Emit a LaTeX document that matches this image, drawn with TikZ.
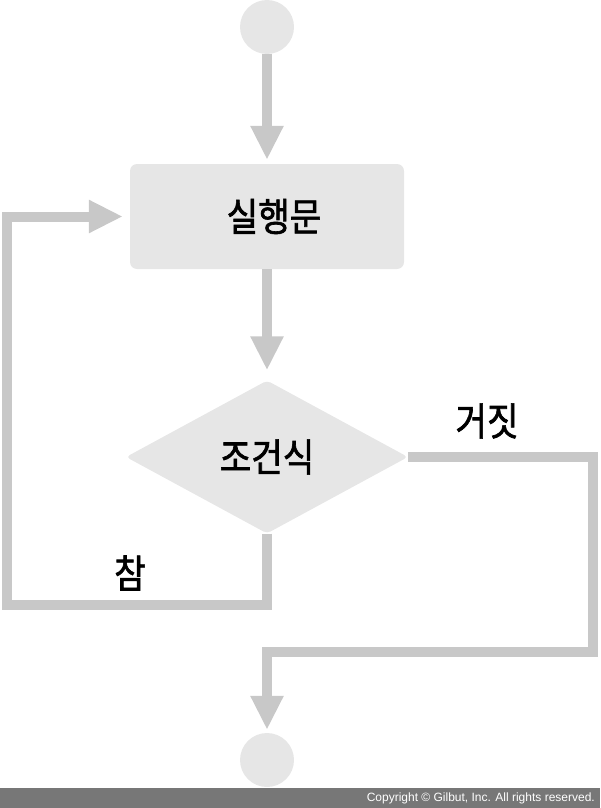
\documentclass[tikz,border=0pt]{standalone}
\usepackage{fontspec}
\setmainfont{Liberation Sans}
\newfontfamily\kor[FakeBold=1.6, FakeStretch=0.88]{Noto Sans CJK KR}
\usetikzlibrary{shapes.geometric,arrows.meta}
\definecolor{flowgray}{HTML}{C8C8C8}
\definecolor{boxgray}{HTML}{E6E6E6}
\definecolor{bargray}{HTML}{777777}
\begin{document}
\begin{tikzpicture}[x=1pt, y=-1pt,
	  flow/.style={draw=flowgray, line width=10pt, -{Triangle[width=31pt,length=34pt]}},
	  term/.style={circle, fill=boxgray, minimum size=54pt, inner sep=0pt},
	  kortext/.style={font=\kor\fontsize{39pt}{42pt}\selectfont, inner sep=0pt}]
	  \useasboundingbox (0,0) rectangle (600,808);
	  \node[term] (start) at (267,27) {};
	  \node[kortext, fill=boxgray, rounded corners=7pt, minimum width=274pt, minimum height=105pt] (exec) at (267,216.5) {\hspace*{14pt}실행문};
	  \node[kortext, diamond, fill=boxgray, rounded corners=4pt, minimum width=282pt, minimum height=153pt] (cond) at (267,457) {조건식};
	  \node[term] (end) at (267,760) {};
	  \node[kortext] (false) at (487,421) {거짓};
	  \node[kortext] (true) at (130,573) {참};
	  \coordinate (loop) at (7,605);
	  \coordinate (jump) at (593,652);
	  \draw[flow, shorten >=4pt] (start) -- (exec);
	  \draw[flow, shorten >=10pt] (exec) -- (cond);
	  \draw[flow, shorten >=7pt] (cond.south) |- (loop) |- (exec.west);
	  \draw[flow, shorten >=3pt] (cond.east) -| (jump) -| (end.north);
	  %copyright bar
	  \fill[bargray] (0,788) rectangle (600,808);
	  \node[anchor=east, text=white, inner sep=0pt, font=\fontsize{12pt}{14pt}\selectfont] (copy) at (595,798.5) {Copyright \textcopyright{} Gilbut, Inc. All rights reserved.};
	\end{tikzpicture}
\end{document}
